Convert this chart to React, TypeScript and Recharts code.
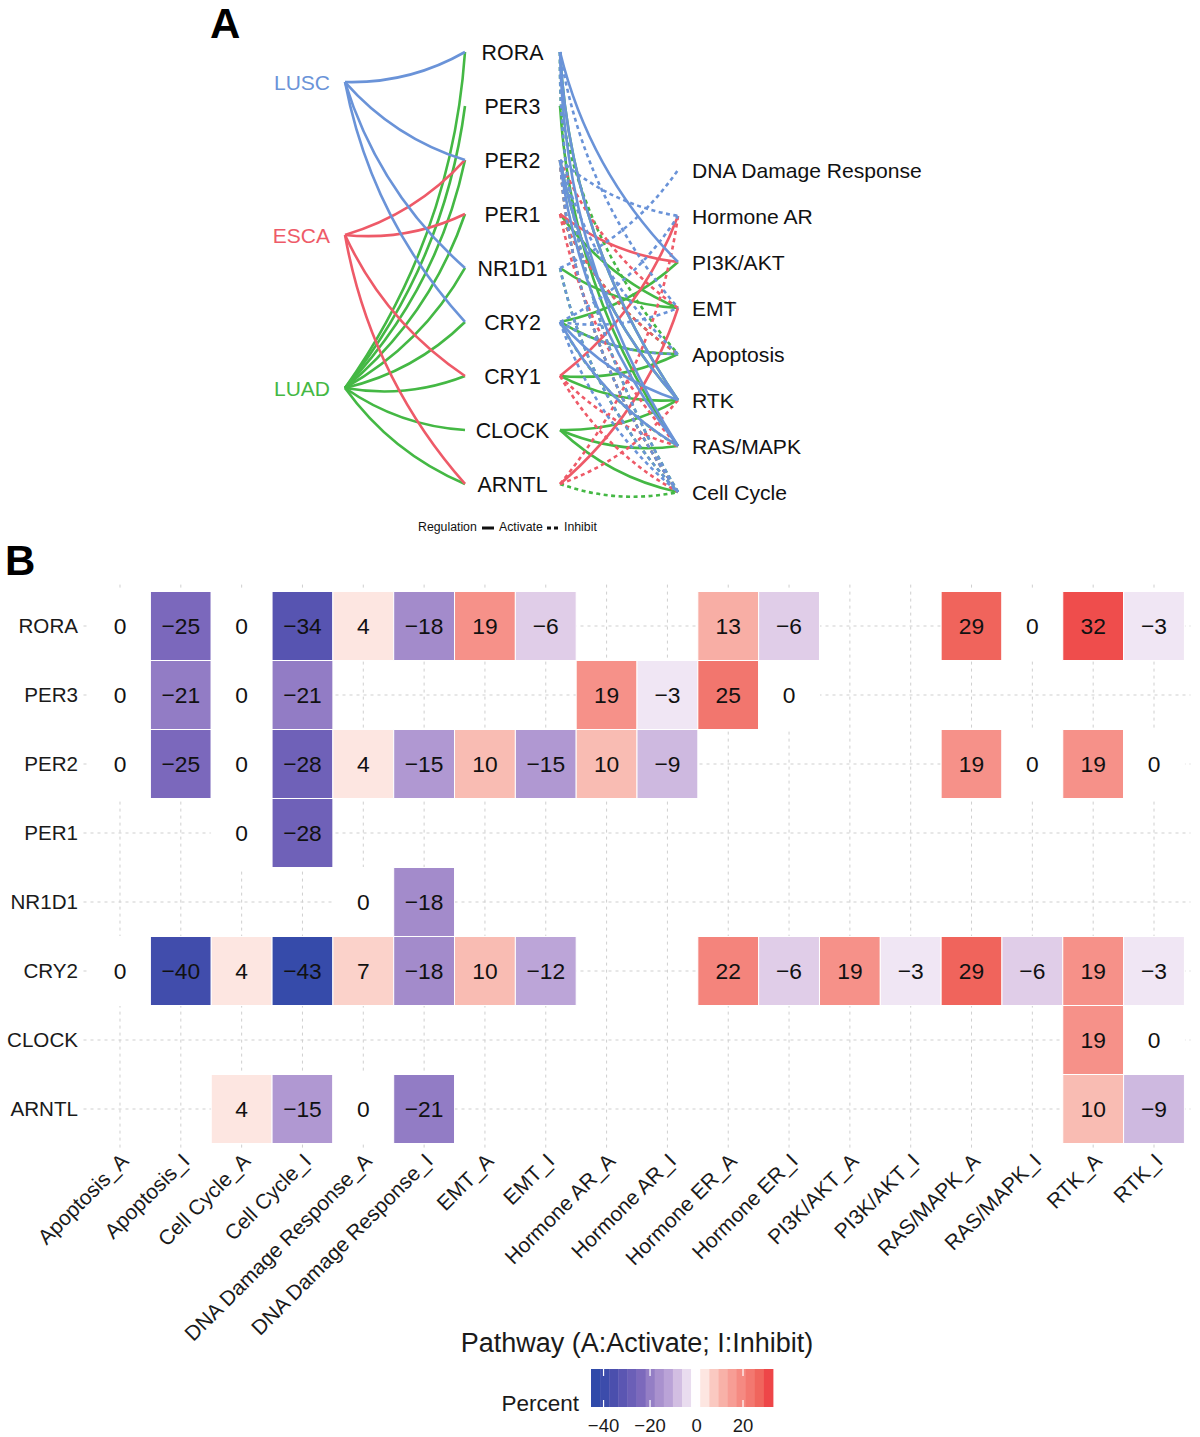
import React from 'react';
import {
  ComposedChart,
  ScatterChart,
  Line,
  Scatter,
  XAxis,
  YAxis,
  CartesianGrid,
  Legend,
} from 'recharts';

const FONT = '"Liberation Sans", Arial, Helvetica, sans-serif';

/* ---------------- Panel A data ---------------- */
const cancers = ['LUSC', 'ESCA', 'LUAD'];
const clockGenes = ['RORA', 'PER3', 'PER2', 'PER1', 'NR1D1', 'CRY2', 'CRY1', 'CLOCK', 'ARNTL'];
const pathwayNodes = [
  'DNA Damage Response',
  'Hormone AR',
  'PI3K/AKT',
  'EMT',
  'Apoptosis',
  'RTK',
  'RAS/MAPK',
  'Cell Cycle',
];
const cancerColors: Record<string, string> = {
  LUSC: '#6A93D8',
  ESCA: '#EE5A68',
  LUAD: '#44B844',
};

const cancerGeneLinks: [string, string][] = [
  ['LUAD', 'RORA'],
  ['LUAD', 'PER3'],
  ['LUAD', 'PER2'],
  ['LUAD', 'PER1'],
  ['LUAD', 'NR1D1'],
  ['LUAD', 'CRY2'],
  ['LUAD', 'CRY1'],
  ['LUAD', 'CLOCK'],
  ['LUAD', 'ARNTL'],
  ['ESCA', 'PER2'],
  ['ESCA', 'PER1'],
  ['ESCA', 'CRY1'],
  ['ESCA', 'ARNTL'],
  ['LUSC', 'RORA'],
  ['LUSC', 'PER2'],
  ['LUSC', 'NR1D1'],
  ['LUSC', 'CRY2'],
];

const genePathwayLinks: [string, string, string, 'A' | 'I'][] = [
  ['LUAD', 'RORA', 'RTK', 'A'],
  ['LUAD', 'RORA', 'Cell Cycle', 'I'],
  ['LUAD', 'PER3', 'RAS/MAPK', 'A'],
  ['LUAD', 'PER3', 'Apoptosis', 'I'],
  ['LUAD', 'PER2', 'RTK', 'A'],
  ['LUAD', 'PER2', 'Cell Cycle', 'I'],
  ['LUAD', 'PER1', 'EMT', 'A'],
  ['LUAD', 'PER1', 'Apoptosis', 'I'],
  ['LUAD', 'NR1D1', 'EMT', 'A'],
  ['LUAD', 'NR1D1', 'Cell Cycle', 'I'],
  ['LUAD', 'CRY2', 'PI3K/AKT', 'A'],
  ['LUAD', 'CRY2', 'Apoptosis', 'A'],
  ['LUAD', 'CRY2', 'RAS/MAPK', 'I'],
  ['LUAD', 'CRY1', 'Apoptosis', 'A'],
  ['LUAD', 'CRY1', 'RTK', 'A'],
  ['LUAD', 'CLOCK', 'RTK', 'A'],
  ['LUAD', 'CLOCK', 'RAS/MAPK', 'A'],
  ['LUAD', 'CLOCK', 'Cell Cycle', 'A'],
  ['LUAD', 'ARNTL', 'Cell Cycle', 'I'],
  ['ESCA', 'PER2', 'EMT', 'I'],
  ['ESCA', 'PER2', 'Cell Cycle', 'I'],
  ['ESCA', 'PER1', 'PI3K/AKT', 'A'],
  ['ESCA', 'PER1', 'Apoptosis', 'I'],
  ['ESCA', 'PER1', 'RAS/MAPK', 'I'],
  ['ESCA', 'CRY1', 'Hormone AR', 'A'],
  ['ESCA', 'CRY1', 'RAS/MAPK', 'I'],
  ['ESCA', 'CRY1', 'Cell Cycle', 'I'],
  ['ESCA', 'ARNTL', 'EMT', 'A'],
  ['ESCA', 'ARNTL', 'Hormone AR', 'I'],
  ['ESCA', 'ARNTL', 'RTK', 'I'],
  ['LUSC', 'RORA', 'PI3K/AKT', 'A'],
  ['LUSC', 'RORA', 'RTK', 'A'],
  ['LUSC', 'RORA', 'RAS/MAPK', 'A'],
  ['LUSC', 'RORA', 'EMT', 'I'],
  ['LUSC', 'RORA', 'Cell Cycle', 'I'],
  ['LUSC', 'PER2', 'RAS/MAPK', 'A'],
  ['LUSC', 'PER2', 'RTK', 'A'],
  ['LUSC', 'PER2', 'Hormone AR', 'I'],
  ['LUSC', 'PER2', 'Apoptosis', 'I'],
  ['LUSC', 'PER2', 'Cell Cycle', 'I'],
  ['LUSC', 'NR1D1', 'DNA Damage Response', 'I'],
  ['LUSC', 'NR1D1', 'Cell Cycle', 'I'],
  ['LUSC', 'CRY2', 'RTK', 'A'],
  ['LUSC', 'CRY2', 'RAS/MAPK', 'A'],
  ['LUSC', 'CRY2', 'Hormone AR', 'I'],
  ['LUSC', 'CRY2', 'EMT', 'I'],
  ['LUSC', 'CRY2', 'Apoptosis', 'I'],
  ['LUSC', 'CRY2', 'Cell Cycle', 'I'],
];

/* ---------------- Panel B data ---------------- */
const heatGenes = ['RORA', 'PER3', 'PER2', 'PER1', 'NR1D1', 'CRY2', 'CLOCK', 'ARNTL'];
const heatPathways = [
  'Apoptosis_A',
  'Apoptosis_I',
  'Cell Cycle_A',
  'Cell Cycle_I',
  'DNA Damage Response_A',
  'DNA Damage Response_I',
  'EMT_A',
  'EMT_I',
  'Hormone AR_A',
  'Hormone AR_I',
  'Hormone ER_A',
  'Hormone ER_I',
  'PI3K/AKT_A',
  'PI3K/AKT_I',
  'RAS/MAPK_A',
  'RAS/MAPK_I',
  'RTK_A',
  'RTK_I',
];
type V = number | null;
const roraValues: V[] = [0, -25, 0, -34, 4, -18, 19, -6, null, null, 13, -6, null, null, 29, 0, 32, -3];
const per3Values: V[] = [0, -21, 0, -21, null, null, null, null, 19, -3, 25, 0, null, null, null, null, null, null];
const per2Values: V[] = [0, -25, 0, -28, 4, -15, 10, -15, 10, -9, null, null, null, null, 19, 0, 19, 0];
const per1Values: V[] = [null, null, 0, -28, null, null, null, null, null, null, null, null, null, null, null, null, null, null];
const nr1d1Values: V[] = [null, null, null, null, 0, -18, null, null, null, null, null, null, null, null, null, null, null, null];
const cry2Values: V[] = [0, -40, 4, -43, 7, -18, 10, -12, null, null, 22, -6, 19, -3, 29, -6, 19, -3];
const clockValues: V[] = [null, null, null, null, null, null, null, null, null, null, null, null, null, null, null, null, 19, 0];
const arntlValues: V[] = [null, null, 4, -15, 0, -21, null, null, null, null, null, null, null, null, null, null, 10, -9];

const legendTicks = [-40, -20, 0, 20];
const legendLimits: [number, number] = [-45.4, 32.9];

const colorStops: [number, string][] = [
  [-45, '#2F4AA9'],
  [-36, '#4F50AE'],
  [-25, '#7B68BC'],
  [-18, '#A38BCB'],
  [-12, '#BCA5D8'],
  [-6, '#E0CDE8'],
  [0, '#FFFFFF'],
  [5, '#FCE0DA'],
  [10, '#F9BCB3'],
  [19, '#F69189'],
  [29, '#F0645C'],
  [33, '#EE4547'],
];

/* ---------------- helpers ---------------- */
const hexToRgb = (h: string) => [
  parseInt(h.slice(1, 3), 16),
  parseInt(h.slice(3, 5), 16),
  parseInt(h.slice(5, 7), 16),
];
const colorFor = (v: number) => {
  if (v <= colorStops[0][0]) return colorStops[0][1];
  for (let i = 1; i < colorStops.length; i++) {
    const [v1, c1] = colorStops[i];
    const [v0, c0] = colorStops[i - 1];
    if (v <= v1) {
      const t = (v - v0) / (v1 - v0);
      const a = hexToRgb(c0);
      const b = hexToRgb(c1);
      const m = a.map((x, k) => Math.round(x + (b[k] - x) * t));
      return `rgb(${m[0]},${m[1]},${m[2]})`;
    }
  }
  return colorStops[colorStops.length - 1][1];
};
const fmt = (v: number) => (v < 0 ? `\u2212${Math.abs(v)}` : `${v}`);

/* ---------------- Panel A layout ---------------- */
const COL = { cancer: 0, geneIn: 1, geneLabel: 1.396, geneOut: 1.792, pathway: 2.775 };
const rowPos = (i: number, start: number, step: number) => start + i * step;
const cancerY = (n: string) => rowPos(cancers.indexOf(n), 0.556, 2.833);
const geneY = (n: string) => rowPos(clockGenes.indexOf(n), 0, 1);
const pathwayY = (n: string) => rowPos(pathwayNodes.indexOf(n), 2.185, 0.852);

const edges = [
  ...cancerGeneLinks.map(([c, g]) => ({
    key: `L-${c}-${g}`,
    color: cancerColors[c],
    dashed: false,
    data: [
      { x: COL.cancer, y: cancerY(c) },
      { x: COL.geneIn, y: geneY(g) },
    ],
  })),
  ...genePathwayLinks.map(([c, g, p, t]) => ({
    key: `R-${c}-${g}-${p}-${t}`,
    color: cancerColors[c],
    dashed: t === 'I',
    data: [
      { x: COL.geneOut, y: geneY(g) },
      { x: COL.pathway, y: pathwayY(p) },
    ],
  })),
];

const cancerNodes = cancers.map((n) => ({ name: n, x: COL.cancer, y: cancerY(n) }));
const geneNodes = clockGenes.map((n) => ({ name: n, x: COL.geneLabel, y: geneY(n) }));
const pathNodes = pathwayNodes.map((n) => ({ name: n, x: COL.pathway, y: pathwayY(n) }));

const BEND = 0.14;
const arcCurve: any = (context: any) => {
  let pts: number[][] = [];
  return {
    areaStart() {},
    areaEnd() {},
    lineStart() {
      pts = [];
    },
    point(x: number, y: number) {
      pts.push([+x, +y]);
    },
    lineEnd() {
      if (pts.length < 2) return;
      const [x0, y0] = pts[0];
      const [x1, y1] = pts[pts.length - 1];
      const dx = x1 - x0;
      const dy = y1 - y0;
      context.moveTo(x0, y0);
      context.quadraticCurveTo((x0 + x1) / 2 - dy * BEND, (y0 + y1) / 2 + dx * BEND, x1, y1);
    },
  };
};

const RegulationLegend = () => (
  <svg width={220} height={32} style={{ display: 'block', fontFamily: FONT }}>
    <text x={18} y={21} fontSize={12.3} fill="#111">Regulation</text>
    <line x1={82} y1={18} x2={94} y2={18} stroke="#111" strokeWidth={3} />
    <text x={99} y={21} fontSize={12.3} fill="#111">Activate</text>
    <line x1={147} y1={18} x2={160} y2={18} stroke="#111" strokeWidth={3} strokeDasharray="4 3" />
    <text x={164} y={21} fontSize={12.3} fill="#111">Inhibit</text>
  </svg>
);

const PanelA = () => (
  <ComposedChart width={1200} height={545} margin={{ top: 52, left: 345, right: 495, bottom: 53 }}>
    <XAxis type="number" dataKey="x" domain={[0, 3]} hide />
    <YAxis type="number" dataKey="y" domain={[0, 8]} reversed hide />
    {edges.map((e) => (
      <Line
        key={e.key}
        data={e.data}
        dataKey="y"
        type={arcCurve}
        stroke={e.color}
        strokeWidth={2.6}
        strokeDasharray={e.dashed ? '4 3.5' : undefined}
        dot={false}
        activeDot={false}
        legendType="none"
        isAnimationActive={false}
      />
    ))}
    <Scatter
      data={cancerNodes}
      dataKey="y"
      legendType="none"
      isAnimationActive={false}
      shape={(p: any) => (
        <text x={p.cx - 15} y={p.cy} dy="0.36em" textAnchor="end" fontSize={21} fill={cancerColors[p.payload.name]}>
          {p.payload.name}
        </text>
      )}
    />
    <Scatter
      data={geneNodes}
      dataKey="y"
      legendType="none"
      isAnimationActive={false}
      shape={(p: any) => (
        <text x={p.cx} y={p.cy} dy="0.36em" textAnchor="middle" fontSize={21.4} fill="#111">
          {p.payload.name}
        </text>
      )}
    />
    <Scatter
      data={pathNodes}
      dataKey="y"
      legendType="none"
      isAnimationActive={false}
      shape={(p: any) => (
        <text x={p.cx + 14} y={p.cy} dy="0.36em" textAnchor="start" fontSize={21.1} fill="#111">
          {p.payload.name}
        </text>
      )}
    />
    <Legend
      layout="vertical"
      align="center"
      verticalAlign="middle"
      content={<RegulationLegend />}
      wrapperStyle={{ position: 'absolute', top: 510, left: 400, width: 220, height: 32 }}
    />
  </ComposedChart>
);

/* ---------------- Panel B ---------------- */
const B_W = 1200;
const B_H = 892;
const B_MARGIN = { top: 39.6, right: 9.5, bottom: 76.6, left: 0 };
const B_YAXIS_W = 83.5;
const B_XAXIS_H = 210;
const X_DOMAIN: [number, number] = [-0.6, heatPathways.length - 0.4];
const Y_DOMAIN: [number, number] = [-0.6, heatGenes.length - 0.4];
const PLOT_W = B_W - B_MARGIN.left - B_MARGIN.right - B_YAXIS_W;
const PLOT_H = B_H - B_MARGIN.top - B_MARGIN.bottom - B_XAXIS_H;
const BAND_W = PLOT_W / (X_DOMAIN[1] - X_DOMAIN[0]);
const BAND_H = PLOT_H / (Y_DOMAIN[1] - Y_DOMAIN[0]);

const heatRowValues: V[][] = [
  roraValues,
  per3Values,
  per2Values,
  per1Values,
  nr1d1Values,
  cry2Values,
  clockValues,
  arntlValues,
];
const cells = heatGenes.flatMap((g, yi) =>
  heatRowValues[yi]
    .map((v, xi) => (v === null ? null : { gene: g, pathway: heatPathways[xi], value: v, xi, yi }))
    .filter((c): c is { gene: string; pathway: string; value: number; xi: number; yi: number } => c !== null)
);

const xTicks = heatPathways.map((_, i) => i);
const yTicks = heatGenes.map((_, i) => i);

const XTick = (p: any) => {
  const name = heatPathways[p.payload.value];
  const x = p.x + 10;
  const y = p.y + 12;
  return (
    <text x={x} y={y} transform={`rotate(-45 ${x} ${y})`} textAnchor="end" fontSize={21} fill="#1a1a1a">
      {name}
    </text>
  );
};
const YTick = (p: any) => (
  <text x={p.x - 5.5} y={p.y} dy="0.36em" textAnchor="end" fontSize={20.6} fill="#1a1a1a">
    {heatGenes[p.payload.value]}
  </text>
);

const Tile = (p: any) => {
  const v = p.payload.value as number;
  return (
    <g>
      <rect
        x={p.cx - BAND_W / 2}
        y={p.cy - BAND_H / 2}
        width={BAND_W}
        height={BAND_H}
        fill={colorFor(v)}
        stroke="#ffffff"
        strokeWidth={1}
      />
      <text x={p.cx} y={p.cy} dy="0.36em" textAnchor="middle" fontSize={22.8} fill="#111">
        {fmt(v)}
      </text>
    </g>
  );
};

const BAR_X = 111;
const BAR_W = 182;
const BAR_Y = 49;
const BAR_H = 38;
const NBIN = 20;
const legX = (v: number) => BAR_X + ((v - legendLimits[0]) / (legendLimits[1] - legendLimits[0])) * BAR_W;

const ColorBar = () => {
  const bins = Array.from({ length: NBIN }, (_, i) => legendLimits[0] + (i * (legendLimits[1] - legendLimits[0])) / (NBIN - 1));
  const bw = BAR_W / NBIN;
  return (
    <svg width={340} height={117} style={{ display: 'block', fontFamily: FONT }}>
      <text x={99} y={91} textAnchor="end" fontSize={22.5} fill="#1a1a1a">Percent</text>
      {bins.map((v, i) => (
        <rect key={i} x={BAR_X + i * bw} y={BAR_Y} width={bw + 0.4} height={BAR_H} fill={colorFor(v)} />
      ))}
      {legendTicks.map((t) => (
        <g key={t}>
          <line x1={legX(t)} x2={legX(t)} y1={BAR_Y} y2={BAR_Y + 7} stroke="#fff" strokeWidth={1.2} />
          <line x1={legX(t)} x2={legX(t)} y1={BAR_Y + BAR_H - 7} y2={BAR_Y + BAR_H} stroke="#fff" strokeWidth={1.2} />
          <text x={legX(t)} y={112} textAnchor="middle" fontSize={18.5} fill="#1a1a1a">
            {fmt(t)}
          </text>
        </g>
      ))}
    </svg>
  );
};

const PanelB = () => (
  <ScatterChart width={B_W} height={B_H} margin={B_MARGIN}>
    <CartesianGrid stroke="#cfcfcf" strokeDasharray="3 4" strokeWidth={1} syncWithTicks />
    <XAxis
      type="number"
      dataKey="xi"
      domain={X_DOMAIN}
      ticks={xTicks}
      interval={0}
      height={B_XAXIS_H}
      tickLine={false}
      axisLine={false}
      tickSize={0}
      tickMargin={0}
      tick={<XTick />}
      label={{
        value: 'Pathway (A:Activate; I:Inhibit)',
        position: 'insideBottom',
        offset: 8.4,
        fontSize: 27,
        fill: '#1a1a1a',
      }}
    />
    <YAxis
      type="number"
      dataKey="yi"
      domain={Y_DOMAIN}
      reversed
      ticks={yTicks}
      interval={0}
      width={B_YAXIS_W}
      tickLine={false}
      axisLine={false}
      tickSize={0}
      tickMargin={0}
      tick={<YTick />}
    />
    <Scatter data={cells} shape={<Tile />} legendType="none" isAnimationActive={false} />
    <Legend
      layout="vertical"
      align="center"
      verticalAlign="middle"
      content={<ColorBar />}
      wrapperStyle={{ position: 'absolute', top: 1320 - 545, left: 480, width: 340, height: 117 }}
    />
  </ScatterChart>
);

export default function App() {
  return (
    <div style={{ position: 'relative', width: 1200, height: 1437, background: '#fff', fontFamily: FONT, overflow: 'hidden' }}>
      <style>{'body{margin:0;background:#fff;}'}</style>
      <div style={{ position: 'absolute', top: 0, left: 0 }}>
        <PanelA />
      </div>
      <div style={{ position: 'absolute', top: 545, left: 0 }}>
        <PanelB />
      </div>
      <svg width={1200} height={600} style={{ position: 'absolute', top: 0, left: 0, pointerEvents: 'none' }}>
        <text x={210} y={38} fontSize={42} fontWeight="bold" fill="#000" fontFamily={FONT}>A</text>
        <text x={5} y={575} fontSize={42} fontWeight="bold" fill="#000" fontFamily={FONT}>B</text>
      </svg>
    </div>
  );
}
